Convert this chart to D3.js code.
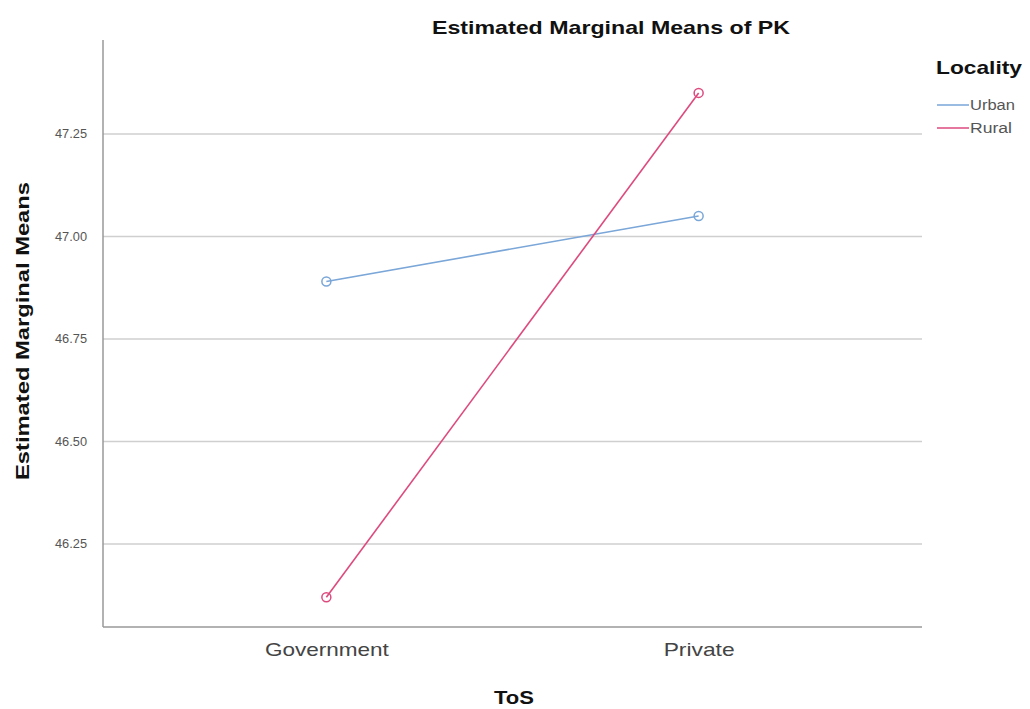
<!DOCTYPE html>
<html><head><meta charset="utf-8">
<script src="https://cdn.jsdelivr.net/npm/d3@7"></script>
<style>body{margin:0;background:#fff}svg{display:block}text{font-family:"Liberation Sans",Arial,sans-serif}</style>
</head><body><svg id="c" width="1030" height="709"></svg>
<script>
const categories = ["Government", "Private"];
const seriesNames = ["Urban", "Rural"];
const urbanValues = [46.89, 47.05];
const ruralValues = [46.12, 47.35];
const yTicks = [46.25, 46.50, 46.75, 47.00, 47.25];
const colors = ["#7aa6d8", "#dd4a7e"];

const svg = d3.select("#c");
const mLeft = 103, mRight = 922, mTop = 40, mBottom = 627;
const y = d3.scaleLinear().domain([46.0476, 47.479]).range([mBottom, mTop]);
const x = d3.scalePoint().domain(categories).range([mLeft, mRight]).padding(0.6);

// gridlines
svg.append("g").selectAll("line").data(yTicks).join("line")
  .attr("x1", mLeft).attr("x2", mRight).attr("y1", d => y(d)).attr("y2", d => y(d))
  .attr("stroke", "#cfcfcf").attr("stroke-width", 1.5);

// y axis
const ya = svg.append("g").attr("transform", `translate(${mLeft},0)`)
  .call(d3.axisLeft(y).tickValues(yTicks).tickFormat(d3.format(".2f")).tickSize(0).tickPadding(16));
ya.select(".domain").remove();
ya.selectAll("text").attr("font-size", 12).attr("fill", "#555")
  .attr("font-family", "Liberation Sans, Arial, sans-serif")
  .attr("textLength", 32).attr("lengthAdjust", "spacingAndGlyphs");
svg.append("line").attr("x1", mLeft).attr("x2", mLeft).attr("y1", mTop).attr("y2", mBottom)
  .attr("stroke", "#999").attr("stroke-width", 1.5);

// x axis
const xa = svg.append("g").attr("transform", `translate(0,${mBottom})`)
  .call(d3.axisBottom(x).tickSize(0).tickPadding(16));
xa.select(".domain").remove();
xa.selectAll("text").attr("font-size", 19).attr("fill", "#444")
  .attr("font-family", "Liberation Sans, Arial, sans-serif")
  .attr("textLength", d => d === "Government" ? 124 : 71).attr("lengthAdjust", "spacingAndGlyphs");
svg.append("line").attr("x1", mLeft).attr("x2", mRight).attr("y1", mBottom).attr("y2", mBottom)
  .attr("stroke", "#999").attr("stroke-width", 1.5);

// series
const series = [urbanValues, ruralValues];
const line = d3.line().x((d, i) => x(categories[i])).y(d => y(d));
series.forEach((vals, si) => {
  svg.append("path").datum(vals).attr("d", line).attr("fill", "none")
    .attr("stroke", colors[si]).attr("stroke-width", 1.6);
  svg.append("g").selectAll("circle").data(vals).join("circle")
    .attr("cx", (d, i) => x(categories[i])).attr("cy", d => y(d)).attr("r", 4.5)
    .attr("fill", "none").attr("stroke", colors[si]).attr("stroke-width", 1.5);
});

// titles
svg.append("text").attr("x", 611).attr("y", 34).attr("text-anchor", "middle")
  .attr("font-size", 19).attr("font-weight", "bold").attr("fill", "#111")
  .attr("textLength", 358).attr("lengthAdjust", "spacingAndGlyphs").text("Estimated Marginal Means of PK");
svg.append("text").attr("x", 514).attr("y", 704).attr("text-anchor", "middle")
  .attr("font-size", 19).attr("font-weight", "bold").attr("fill", "#111")
  .attr("textLength", 40).attr("lengthAdjust", "spacingAndGlyphs").text("ToS");
svg.append("text").attr("transform", "translate(29,331) rotate(-90)").attr("text-anchor", "middle")
  .attr("font-size", 19).attr("font-weight", "bold").attr("fill", "#111")
  .attr("textLength", 298).attr("lengthAdjust", "spacingAndGlyphs").text("Estimated Marginal Means");

// legend
svg.append("text").attr("x", 936).attr("y", 74).attr("font-size", 19).attr("font-weight", "bold")
  .attr("fill", "#111").attr("textLength", 86).attr("lengthAdjust", "spacingAndGlyphs").text("Locality");
seriesNames.forEach((n, i) => {
  const ly = 105 + i * 23;
  svg.append("line").attr("x1", 937).attr("x2", 969).attr("y1", ly).attr("y2", ly)
    .attr("stroke", colors[i]).attr("stroke-width", 1.5);
  svg.append("text").attr("x", 970).attr("y", ly + 5).attr("font-size", 14).attr("fill", "#555")
    .attr("textLength", n === "Urban" ? 45 : 42).attr("lengthAdjust", "spacingAndGlyphs").text(n);
});
</script></body></html>
